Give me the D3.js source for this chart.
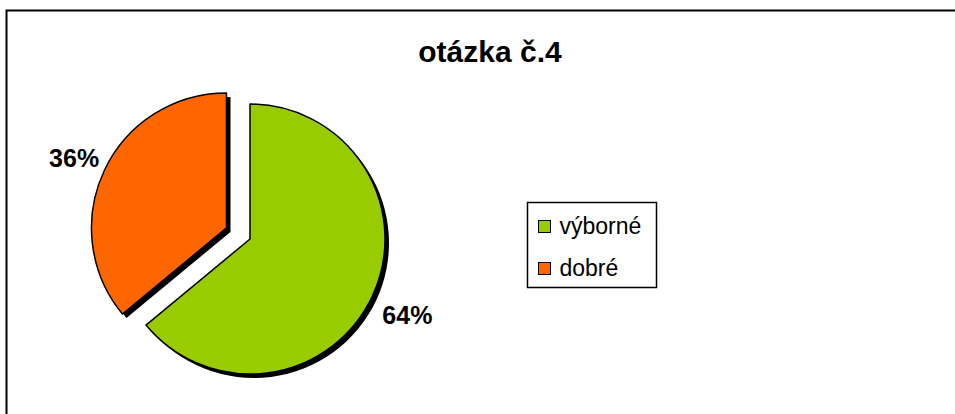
<!DOCTYPE html>
<html><head><meta charset="utf-8">
<script src="https://cdn.jsdelivr.net/npm/d3@7"></script>
<style>body{margin:0;background:#fff}svg{display:block}text{font-family:Arial,"Liberation Sans",sans-serif}</style>
</head><body>
<svg id="c" width="955" height="414"></svg>
<script>
const title = "otázka č.4";
const categories = ["výborné", "dobré"];
const values = [64, 36];
const labels = ["64%", "36%"];
const colors = ["#99CC00", "#FF6600"];

const svg = d3.select("#c");
svg.append("rect").attr("x", 6.5).attr("y", 10.5).attr("width", 960).attr("height", 420)
  .attr("fill", "#fff").attr("stroke", "#000").attr("stroke-width", 2);

svg.append("text").attr("x", 490).attr("y", 62).attr("text-anchor", "middle")
  .attr("font-size", 30).attr("font-weight", "bold").text(title);

const cx = 250, cy = 239, r = 135, explode = [0, 26];
const pie = d3.pie().sort(null).value(d => d)(values);
const arc = d3.arc().innerRadius(0).outerRadius(r);
const g = svg.append("g").attr("transform", `translate(${cx},${cy})`);

function off(d, i) {
  const a = (d.startAngle + d.endAngle) / 2;
  return [Math.sin(a) * explode[i], -Math.cos(a) * explode[i]];
}
// shadows
g.selectAll("path.sh").data(pie).join("path").attr("class", "sh")
  .attr("d", arc).attr("fill", "#000")
  .attr("transform", (d, i) => { const o = off(d, i); return `translate(${o[0] + 4},${o[1] + 4})`; });
g.selectAll("path.sl").data(pie).join("path").attr("class", "sl")
  .attr("d", arc).attr("fill", (d, i) => colors[i]).attr("stroke", "#000").attr("stroke-width", 1.5)
  .attr("stroke-linejoin", "round")
  .attr("transform", (d, i) => { const o = off(d, i); return `translate(${o[0]},${o[1]})`; });

// labels
const labelPos = d3.arc().innerRadius(r + 40).outerRadius(r + 40);
const nudge = [[-1, 1], [6, 5]];
g.selectAll("text.lb").data(pie).join("text").attr("class", "lb")
  .attr("font-size", 25).attr("font-weight", "bold").attr("text-anchor", "middle")
  .attr("dominant-baseline", "central")
  .attr("transform", (d, i) => { const o = off(d, i); const c = labelPos.centroid(d); return `translate(${c[0] + o[0] + nudge[i][0]},${c[1] + o[1] + nudge[i][1]})`; })
  .text((d, i) => labels[i]);

// legend
const lg = svg.append("g").attr("transform", "translate(527.5,202.5)");
lg.append("rect").attr("width", 129).attr("height", 85).attr("fill", "#fff").attr("stroke", "#000").attr("stroke-width", 1.5);
const items = lg.selectAll("g.it").data(categories).join("g").attr("class", "it")
  .attr("transform", (d, i) => `translate(11,${18 + i * 42})`);
items.append("rect").attr("width", 12).attr("height", 12).attr("fill", (d, i) => colors[i]).attr("stroke", "#000").attr("stroke-width", 1);
items.append("text").attr("x", 21).attr("y", 13).attr("font-size", 23).text(d => d);
</script>
</body></html>
